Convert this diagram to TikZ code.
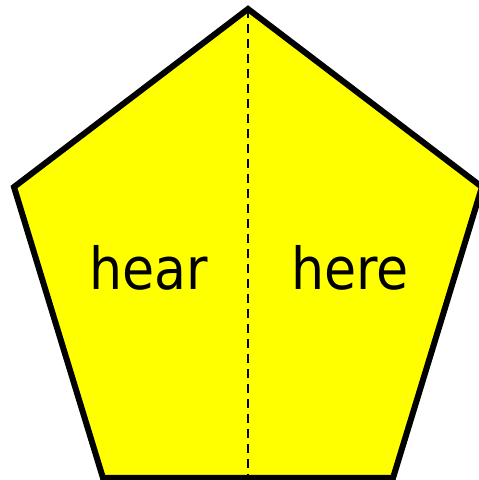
\documentclass[tikz,border=0pt]{standalone}
\usepackage{fontspec}
\setmainfont{DejaVu Sans Condensed}
\usetikzlibrary{calc}
\definecolor{penyellow}{RGB}{255, 255, 0}

\begin{document}
\begin{tikzpicture}[
    x=1pt, y=1pt,
    penta/.style={draw=black, fill=penyellow, line width=6pt, line join=miter},
    split/.style={draw=black, line width=2.6pt, dash pattern=on 9pt off 6pt},
    word/.style={anchor=base, inner sep=0pt, font=\fontsize{58}{60}\selectfont},
  ]
    \useasboundingbox (0,0) rectangle (479,480);
    % corners of the pentagon
    \coordinate (top) at (248,471);
    \coordinate (lft) at (14,293);
    \coordinate (rgt) at (482,293);
    \coordinate (br)  at (393,2);
    \coordinate (bl)  at (103,2);
    \coordinate (bot) at (248,2);

    \path[penta] (top) -- (rgt) -- (br) -- (bl) -- (lft) -- cycle;
    \draw[split] (top) -- (bot);

    % the two words
    \node[word] (hear) at (149,190) {hear};
    \node[word] (here) at (350,190) {here};
\end{tikzpicture}
\end{document}
